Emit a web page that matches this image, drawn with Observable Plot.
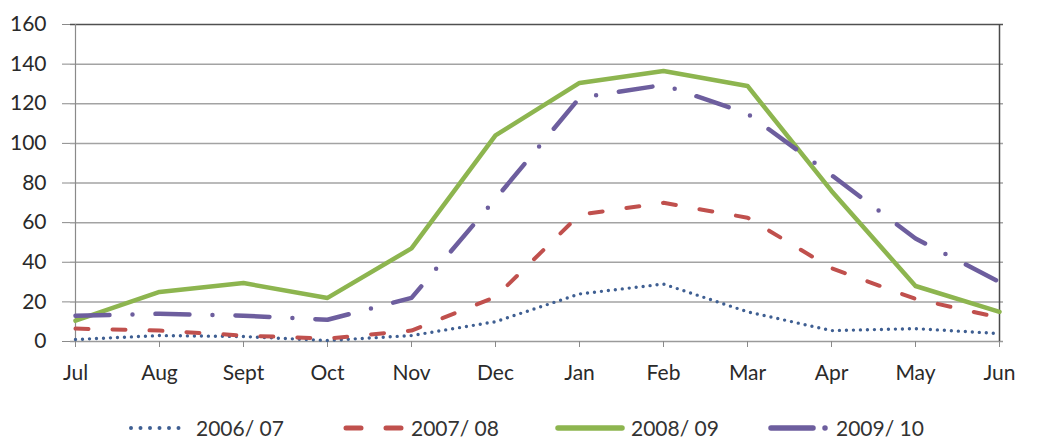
<!DOCTYPE html>
<html>
<head>
<meta charset="utf-8">
<script src="https://cdn.jsdelivr.net/npm/d3@7"></script>
<script src="https://cdn.jsdelivr.net/npm/@observablehq/plot@0.6"></script>
<style>
  html, body { margin: 0; padding: 0; background: #fff; }
  #chart { width: 1038px; height: 400px; }
  #legend { position: relative; width: 1038px; height: 39px; font-family: Lato, "Open Sans", sans-serif; font-size: 21px; color: #333; }
  #legend .item { position: absolute; top: 8px; height: 39px; display: flex; align-items: center; }
  #legend svg { display: block; }
</style>
</head>
<body>
<div id="chart"></div>
<div id="legend"></div>
<script>
// Months of the season, July to June
const months = ["Jul", "Aug", "Sept", "Oct", "Nov", "Dec", "Jan", "Feb", "Mar", "Apr", "May", "Jun"];

// Season labels
const seasons = ["2006/ 07", "2007/ 08", "2008/ 09", "2009/ 10"];

// Monthly values per season
const s2006 = [1, 3, 2.5, 0.5, 3, 10, 24, 29, 15, 5.5, 6.5, 4];
const s2007 = [6.5, 5.5, 3, 1.5, 5.5, 22.5, 64, 70, 62.5, 37, 21.5, 12];
const s2008 = [10.5, 25, 29.5, 22, 47, 104, 130.5, 136.5, 129, 76, 28, 15];
const s2009 = [13, 14, 13, 11, 22, 72, 123, 129.5, 115, 84, 52, 30];

// Value axis ticks
const yTicks = [0, 20, 40, 60, 80, 100, 120, 140, 160];

const seriesValues = [s2006, s2007, s2008, s2009];

// Line styles per season
const styles = {
  "2006/ 07": {stroke: "#3f5f92", strokeWidth: 3.4, strokeDasharray: "0 7", strokeLinecap: "round"},
  "2007/ 08": {stroke: "#c0504d", strokeWidth: 4, strokeDasharray: "13 24", strokeLinecap: "round"},
  "2008/ 09": {stroke: "#8db54f", strokeWidth: 4.5, strokeLinecap: "round"},
  "2009/ 10": {stroke: "#6d5e9e", strokeWidth: 4.5, strokeDasharray: "34 23 0 23", strokeLinecap: "round"}
};

const rows = seasons.flatMap((s, i) => months.map((m, j) => ({season: s, month: m, value: seriesValues[i][j]})));

const lineMarks = seasons.map(s =>
  Plot.line(rows.filter(d => d.season === s), {
    x: "month", y: "value", strokeLinejoin: "round", ...styles[s]
  })
);

const chart = Plot.plot({
  width: 1038,
  height: 400,
  marginLeft: 70,
  marginRight: 35,
  marginTop: 24,
  marginBottom: 59,
  style: {fontFamily: "Lato, 'Open Sans', sans-serif", fontSize: "21px", color: "#2a2a2a", background: "#fff"},
  x: {type: "point", domain: months, padding: 0},
  y: {domain: [0, 160]},
  marks: [
    Plot.ruleY(yTicks.filter(v => v > 0 && v < 160), {stroke: "#a3a3a3", strokeWidth: 1.5}),
    Plot.ruleY([160], {stroke: "#505050", strokeWidth: 1.5}),
    Plot.ruleY([0], {stroke: "#9a9a9a", strokeWidth: 1.5}),
    Plot.ruleX(["Jul"], {stroke: "#8a8a8a", strokeWidth: 1.2}),
    Plot.ruleX(["Jun"], {stroke: "#4a4a4a", strokeWidth: 1.5}),
    Plot.axisY({ticks: yTicks, tickSize: 8, tickPadding: 16, stroke: "#8a8a8a", label: null, fill: "#2a2a2a"}),
    Plot.axisX({tickSize: 6, tickPadding: 18, stroke: "#8a8a8a", label: null, fill: "#2a2a2a"}),
    ...lineMarks
  ]
});
document.getElementById("chart").appendChild(chart);

// Legend below the chart
const legend = d3.select("#legend");
const legendLeft = [128, 343, 555, 768];
const swatchWidth = [62, 62, 70, 62];
seasons.forEach((s, i) => {
  const item = legend.append("div").attr("class", "item").style("left", legendLeft[i] + "px");
  const w = swatchWidth[i];
  const svg = item.append("svg").attr("width", w).attr("height", 14);
  const st = styles[s];
  let dash = st.strokeDasharray || null;
  let sw = st.strokeWidth + 1;
  if (s === "2006/ 07") { dash = "0 9.5"; sw = 4; }
  if (s === "2007/ 08") { dash = "15 25"; }
  if (s === "2009/ 10") { dash = "42 12 0 20"; }
  svg.append("line")
    .attr("x1", 3).attr("x2", w - 3).attr("y1", 7).attr("y2", 7)
    .attr("stroke", st.stroke).attr("stroke-width", sw)
    .attr("stroke-linecap", "round")
    .attr("stroke-dasharray", dash);
  item.append("span").style("margin-left", "6px").text(s);
});
</script>
</body>
</html>
